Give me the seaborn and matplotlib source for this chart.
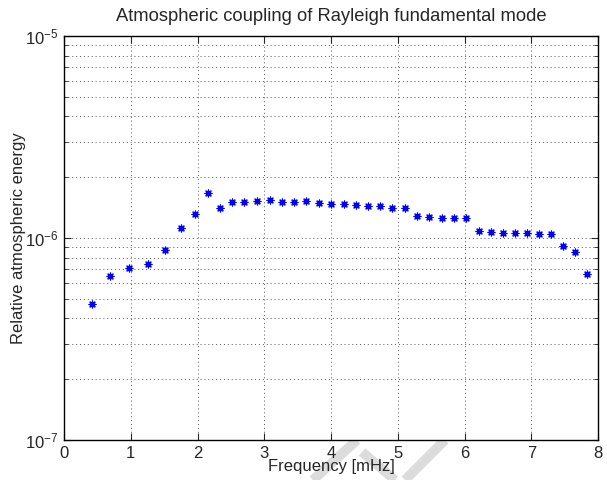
import numpy as np
import pandas as pd
import matplotlib
matplotlib.use('Agg')
import matplotlib.pyplot as plt
import seaborn as sns
from matplotlib.ticker import LogLocator, NullFormatter, FixedLocator

# Data
freq_mhz = [0.42, 0.69, 0.97, 1.26, 1.52, 1.76, 1.96, 2.15, 2.33, 2.52,
            2.70, 2.89, 3.08, 3.26, 3.45, 3.63, 3.82, 4.00, 4.19, 4.37,
            4.56, 4.74, 4.92, 5.11, 5.29, 5.47, 5.66, 5.84, 6.02, 6.21,
            6.39, 6.57, 6.75, 6.94, 7.12, 7.30, 7.48, 7.66, 7.84]
rel_energy = [4.7e-7, 6.45e-7, 7.1e-7, 7.4e-7, 8.7e-7, 1.12e-6, 1.32e-6, 1.67e-6, 1.41e-6, 1.50e-6,
              1.50e-6, 1.52e-6, 1.54e-6, 1.51e-6, 1.51e-6, 1.52e-6, 1.49e-6, 1.48e-6, 1.48e-6, 1.46e-6,
              1.44e-6, 1.44e-6, 1.41e-6, 1.40e-6, 1.29e-6, 1.27e-6, 1.25e-6, 1.25e-6, 1.25e-6, 1.08e-6,
              1.07e-6, 1.06e-6, 1.055e-6, 1.055e-6, 1.05e-6, 1.05e-6, 9.1e-7, 8.5e-7, 6.6e-7]
x_ticks = [0, 1, 2, 3, 4, 5, 6, 7, 8]

df = pd.DataFrame({'freq': freq_mhz, 'energy': rel_energy})

sns.set_style('ticks')
plt.rcParams['font.family'] = ['Liberation Sans', 'DejaVu Sans']
plt.rcParams['mathtext.fontset'] = 'custom'
plt.rcParams['mathtext.rm'] = 'Liberation Sans'
plt.rcParams['mathtext.it'] = 'Liberation Sans'

fig = plt.figure(figsize=(6.07, 4.8), dpi=100)
ax = fig.add_axes([64 / 607, 1 - 440 / 480, 534 / 607, 404 / 480])

# faint watermark strokes below the axes
for xs, ys in [([357, 313], [440, 480]), ([445, 405], [440, 480]), ([362, 395], [452, 480])]:
    fig.add_artist(plt.Line2D([x / 607 for x in xs], [1 - y / 480 for y in ys],
                              color='#dcdcdc', lw=7, zorder=-5, solid_capstyle='butt'))

sns.scatterplot(data=df, x='freq', y='energy', ax=ax, marker=(8, 2, 0),
                color='blue', s=24, linewidth=0.9, zorder=3)

ax.set_yscale('log')
ax.set_xlim(0, 8)
ax.set_ylim(1e-7, 1e-5)
ax.xaxis.set_major_locator(FixedLocator(x_ticks))
ax.yaxis.set_major_locator(LogLocator(base=10))
ax.yaxis.set_minor_locator(LogLocator(base=10, subs=np.arange(2, 10)))
ax.yaxis.set_minor_formatter(NullFormatter())

grid_kw = dict(linestyle=(0, (1, 3)), color='#555555', linewidth=0.7)
ax.grid(True, which='major', axis='both', **grid_kw)
ax.grid(True, which='minor', axis='y', **grid_kw)

ax.tick_params(which='both', direction='in', top=True, right=True, labelsize=12, pad=4)
ax.tick_params(which='major', length=5, width=0.8)
ax.tick_params(which='minor', length=3, width=0.6)
for s in ax.spines.values():
    s.set_linewidth(1.0)
    s.set_color('black')

ax.set_xlabel('Frequency [mHz]', fontsize=12, labelpad=-1)
ax.set_ylabel('Relative atmospheric energy', fontsize=12)
ax.yaxis.set_label_coords(-0.072, 0.5)
ax.set_title('Atmospheric coupling of Rayleigh fundamental mode', fontsize=13.2, pad=11)

fig.savefig('out.png', dpi=100)
